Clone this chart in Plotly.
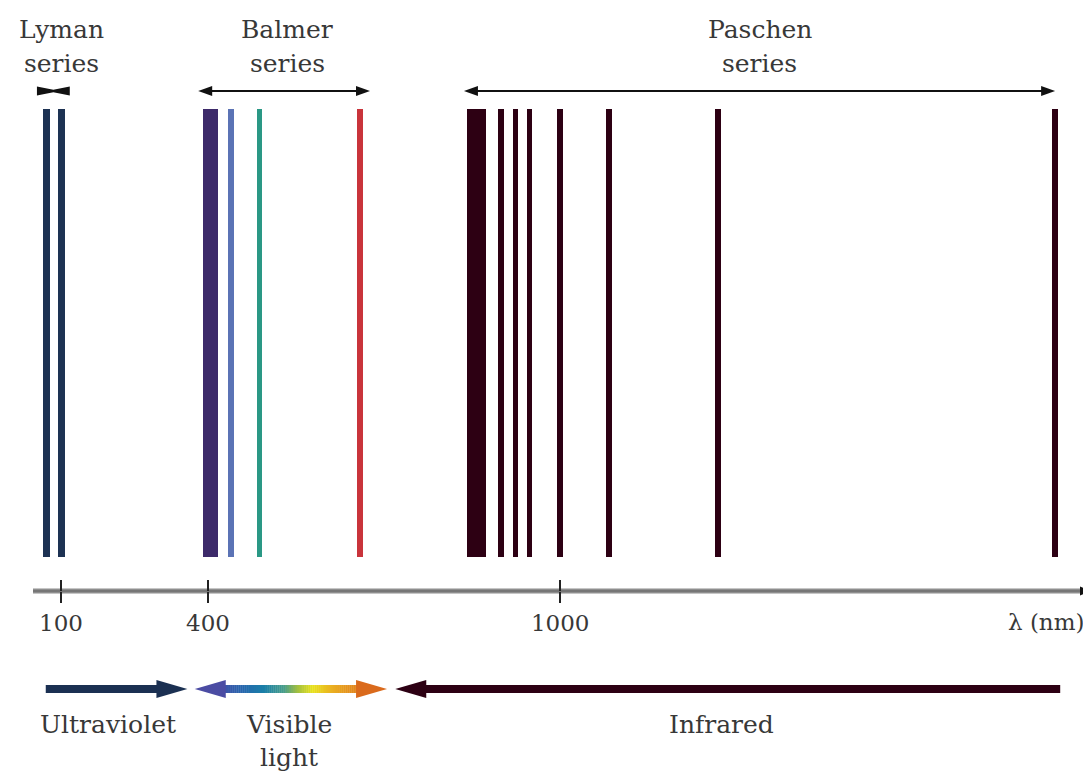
import numpy as np
import plotly.graph_objects as go

# ---------------- data (wavelengths in nm) ----------------
lyman_nm = [71, 101]
lyman_color = "#1d3253"

balmer_band_nm = [390, 417]          # crowded high-n Balmer lines
balmer_band_color = "#3d2a6a"
balmer_nm = [439, 488, 659]
balmer_colors = ["#5b73b5", "#2a9885", "#c9343b"]

paschen_band_nm = [841, 873]         # crowded high-n Paschen lines
paschen_nm = [899, 924, 948, 1000, 1086, 1279, 1876]
paschen_color = "#2d0013"

tick_nm = [100, 400, 1000]
tick_text = ["100", "400", "1000"]

series_labels = ["Lyman", "Balmer", "Paschen"]
series_span_nm = [[51, 118], [380, 676], [836, 1876]]

region_labels = ["Ultraviolet", "Visible", "Infrared"]
region_span_nm = [[69, 358], [373, 705], [719, 1885]]

# ---------------- schematic (broken) wavelength scale ----------------
UV_SQUEEZE = 0.835      # region below 400 nm is compressed
IR_SQUEEZE = 0.9625     # region above 1000 nm slightly compressed
PX_PER_U = 0.587
ORIGIN_PX = 208         # page x where 400 nm sits
PAGE_W, PAGE_H = 1091, 777
OFF = 8                 # browser body margin
W, H = PAGE_W - OFF, PAGE_H - OFF


def axis_u(nm):
    nm = np.asarray(nm, dtype=float)
    return np.where(nm < 400, 400 - (400 - nm) * UV_SQUEEZE,
                    np.where(nm > 1000, 1000 + (nm - 1000) * IR_SQUEEZE, nm))


def px2u(px):
    return px / PX_PER_U


def page_u(p):
    return 400 + (p - ORIGIN_PX) / PX_PER_U


X_RANGE = [page_u(OFF), page_u(PAGE_W)]
Y_RANGE = [PAGE_H, OFF]      # y data units = page pixels from top

LINE_TOP, LINE_BOTTOM = 109, 557
LINE_W = px2u(5.5)
AXIS_Y = 591
SERIES_ARROW_Y = 91
REGION_ARROW_Y = 689

FONT = "DejaVu Serif"
TXT = "#383838"

fig = go.Figure()


def add_lines(xs_nm, colors, width_u):
    n = len(xs_nm)
    fig.add_trace(go.Bar(
        x=axis_u(xs_nm), y=[LINE_BOTTOM - LINE_TOP] * n, base=[LINE_TOP] * n,
        width=[width_u] * n,
        marker=dict(color=colors, line=dict(width=0)),
        showlegend=False, hoverinfo="x"))


def add_band(band_nm, color):
    lo, hi = axis_u(band_nm)
    fig.add_trace(go.Bar(
        x=[(lo + hi) / 2], y=[LINE_BOTTOM - LINE_TOP], base=[LINE_TOP],
        width=[hi - lo], marker=dict(color=color, line=dict(width=0)),
        showlegend=False, hoverinfo="skip"))


# spectral lines
add_lines(lyman_nm, lyman_color, px2u(6.5))
add_band(balmer_band_nm, balmer_band_color)
add_lines(balmer_nm, balmer_colors, LINE_W)
add_band(paschen_band_nm, paschen_color)
add_lines(paschen_nm, paschen_color, LINE_W)

# dummy trace so the second (inside-tick) axis is drawn
fig.add_trace(go.Scatter(x=[axis_u(400)], y=[-100], xaxis="x2", mode="markers",
                         marker=dict(opacity=0), showlegend=False, hoverinfo="skip"))

shapes = []
annotations = []


def tri(tip_u, base_u, y, half, color):
    return dict(type="path", xref="x", yref="y", layer="above",
                path=f"M{tip_u},{y} L{base_u},{y - half} L{base_u},{y + half} Z",
                fillcolor=color, line=dict(width=0))


# ---- series span arrows (top) ----
l0, l1 = axis_u(series_span_nm[0])
lm = (l0 + l1) / 2
y = SERIES_ARROW_Y
shapes.append(dict(type="path", xref="x", yref="y", layer="above",
                   path=(f"M{l0},{y - 4.5} L{lm},{y - 1.3} L{l1},{y - 4.5} L{l1},{y + 4.5} "
                         f"L{lm},{y + 1.3} L{l0},{y + 4.5} Z"),
                   fillcolor="#111", line=dict(width=0)))
for span in series_span_nm[1:]:
    a, b = axis_u(span)
    hl = px2u(14)
    shapes.append(dict(type="line", xref="x", yref="y", x0=a + hl * 0.6, x1=b - hl * 0.6,
                       y0=y, y1=y, line=dict(color="#111", width=2), layer="above"))
    shapes.append(tri(a, a + hl, y, 5, "#111"))
    shapes.append(tri(b, b - hl, y, 5, "#111"))

# series labels
for name, span, shift in zip(series_labels, series_span_nm, [8, 3, 0]):
    cx = float(np.mean(axis_u(span)))
    annotations.append(dict(x=cx, y=29, xref="x", yref="y", text=name, showarrow=False,
                            xshift=shift, font=dict(family=FONT, size=25, color=TXT)))
    annotations.append(dict(x=cx, y=63, xref="x", yref="y", text="series", showarrow=False,
                            xshift=shift, font=dict(family=FONT, size=25, color=TXT)))

# ---- wavelength axis line ----
ax0, ax1 = page_u(33), page_u(1082)
shapes.append(dict(type="line", xref="x", yref="y", x0=ax0, x1=ax1, y0=AXIS_Y, y1=AXIS_Y,
                   line=dict(color="#8e8e8e", width=5), layer="below"))
shapes.append(dict(type="line", xref="x", yref="y", x0=ax0, x1=ax1, y0=AXIS_Y, y1=AXIS_Y,
                   line=dict(color="#5e5e5e", width=1.2), layer="below"))
shapes.append(tri(page_u(1090), ax1 - px2u(2), AXIS_Y, 4.5, "#111"))

annotations.append(dict(x=page_u(1046), y=622, xref="x", yref="y",
                        text="λ (nm)", showarrow=False,
                        font=dict(family=FONT, size=23, color=TXT)))

# ---- region arrows (bottom) ----
HEAD_L = px2u(31)
HEAD_HALF = 9
SHAFT = 8
ry = REGION_ARROW_Y

# Ultraviolet: pointing right
u0, u1 = axis_u(region_span_nm[0])
shapes.append(dict(type="line", xref="x", yref="y", x0=u0, x1=u1 - HEAD_L + px2u(2),
                   y0=ry, y1=ry, line=dict(color="#1b3052", width=SHAFT), layer="above"))
shapes.append(tri(u1, u1 - HEAD_L, ry, HEAD_HALF, "#1b3052"))

# Infrared: pointing left
i0, i1 = axis_u(region_span_nm[2])
shapes.append(dict(type="line", xref="x", yref="y", x0=i0 + HEAD_L - px2u(2), x1=i1,
                   y0=ry, y1=ry, line=dict(color="#2d0013", width=SHAFT), layer="above"))
shapes.append(tri(i0, i0 + HEAD_L, ry, HEAD_HALF, "#2d0013"))

# Visible: double headed, rainbow gradient shaft
v0, v1 = axis_u(region_span_nm[1])
s0, s1 = v0 + HEAD_L - px2u(3), v1 - HEAD_L + px2u(3)
stops = [0.0, 0.15, 0.3, 0.45, 0.55, 0.66, 0.8, 1.0]
stop_cols = ["#3f52a8", "#2667ad", "#1a7fa8", "#4a9e8a", "#a3c040", "#e8e21c", "#eab022", "#e07e1a"]
rgb = np.array([[int(c[i:i + 2], 16) for i in (1, 3, 5)] for c in stop_cols], dtype=float)
N = 70
edges = np.linspace(s0, s1, N + 1)
for k in range(N):
    f = (k + 0.5) / N
    r, g, b = (np.interp(f, stops, rgb[:, j]) for j in range(3))
    shapes.append(dict(type="rect", xref="x", yref="y", x0=edges[k], x1=edges[k + 1] + 0.6,
                       y0=ry - SHAFT / 2, y1=ry + SHAFT / 2,
                       fillcolor=f"rgb({r:.0f},{g:.0f},{b:.0f})", line=dict(width=0),
                       layer="above"))
shapes.append(tri(v0, v0 + HEAD_L, ry, HEAD_HALF, "#4b4ca3"))
shapes.append(tri(v1, v1 - HEAD_L, ry, HEAD_HALF, "#da6a1c"))

# region labels
ucx = float(np.mean(axis_u(region_span_nm[0])))
annotations.append(dict(x=ucx, y=724, xref="x", yref="y", text=region_labels[0],
                        showarrow=False, xshift=-9,
                        font=dict(family=FONT, size=25, color=TXT)))
vcx = float(np.mean(axis_u(region_span_nm[1])))
annotations.append(dict(x=vcx, y=724, xref="x", yref="y", text=region_labels[1],
                        showarrow=False, xshift=-2,
                        font=dict(family=FONT, size=25, color=TXT)))
annotations.append(dict(x=vcx, y=757, xref="x", yref="y", text="light",
                        showarrow=False, xshift=-2,
                        font=dict(family=FONT, size=25, color=TXT)))
icx = float(np.mean(axis_u(region_span_nm[2])))
annotations.append(dict(x=icx, y=724, xref="x", yref="y", text=region_labels[2],
                        showarrow=False, xshift=-6,
                        font=dict(family=FONT, size=25, color=TXT)))

axis_pos = 1 - (AXIS_Y - OFF) / H
fig.update_layout(
    width=W, height=H,
    margin=dict(l=0, r=0, t=0, b=0),
    paper_bgcolor="white", plot_bgcolor="white",
    barmode="overlay", bargap=0,
    showlegend=False,
    shapes=shapes, annotations=annotations,
    xaxis=dict(range=X_RANGE, domain=[0, 1], anchor="free", position=axis_pos,
               tickvals=axis_u(tick_nm).tolist(), ticktext=tick_text,
               ticks="outside", ticklen=11, tickwidth=2, tickcolor="#222",
               showline=False, showgrid=False, zeroline=False,
               tickfont=dict(family=FONT, size=23, color=TXT), fixedrange=True),
    xaxis2=dict(range=X_RANGE, overlaying="x", matches="x", anchor="free", position=axis_pos,
                tickvals=axis_u(tick_nm).tolist(), ticks="inside", ticklen=11, tickwidth=2,
                tickcolor="#222", showticklabels=False, showline=False, showgrid=False,
                zeroline=False),
    yaxis=dict(range=Y_RANGE, domain=[0, 1], visible=False, fixedrange=True),
)

fig.write_html("out.html")
